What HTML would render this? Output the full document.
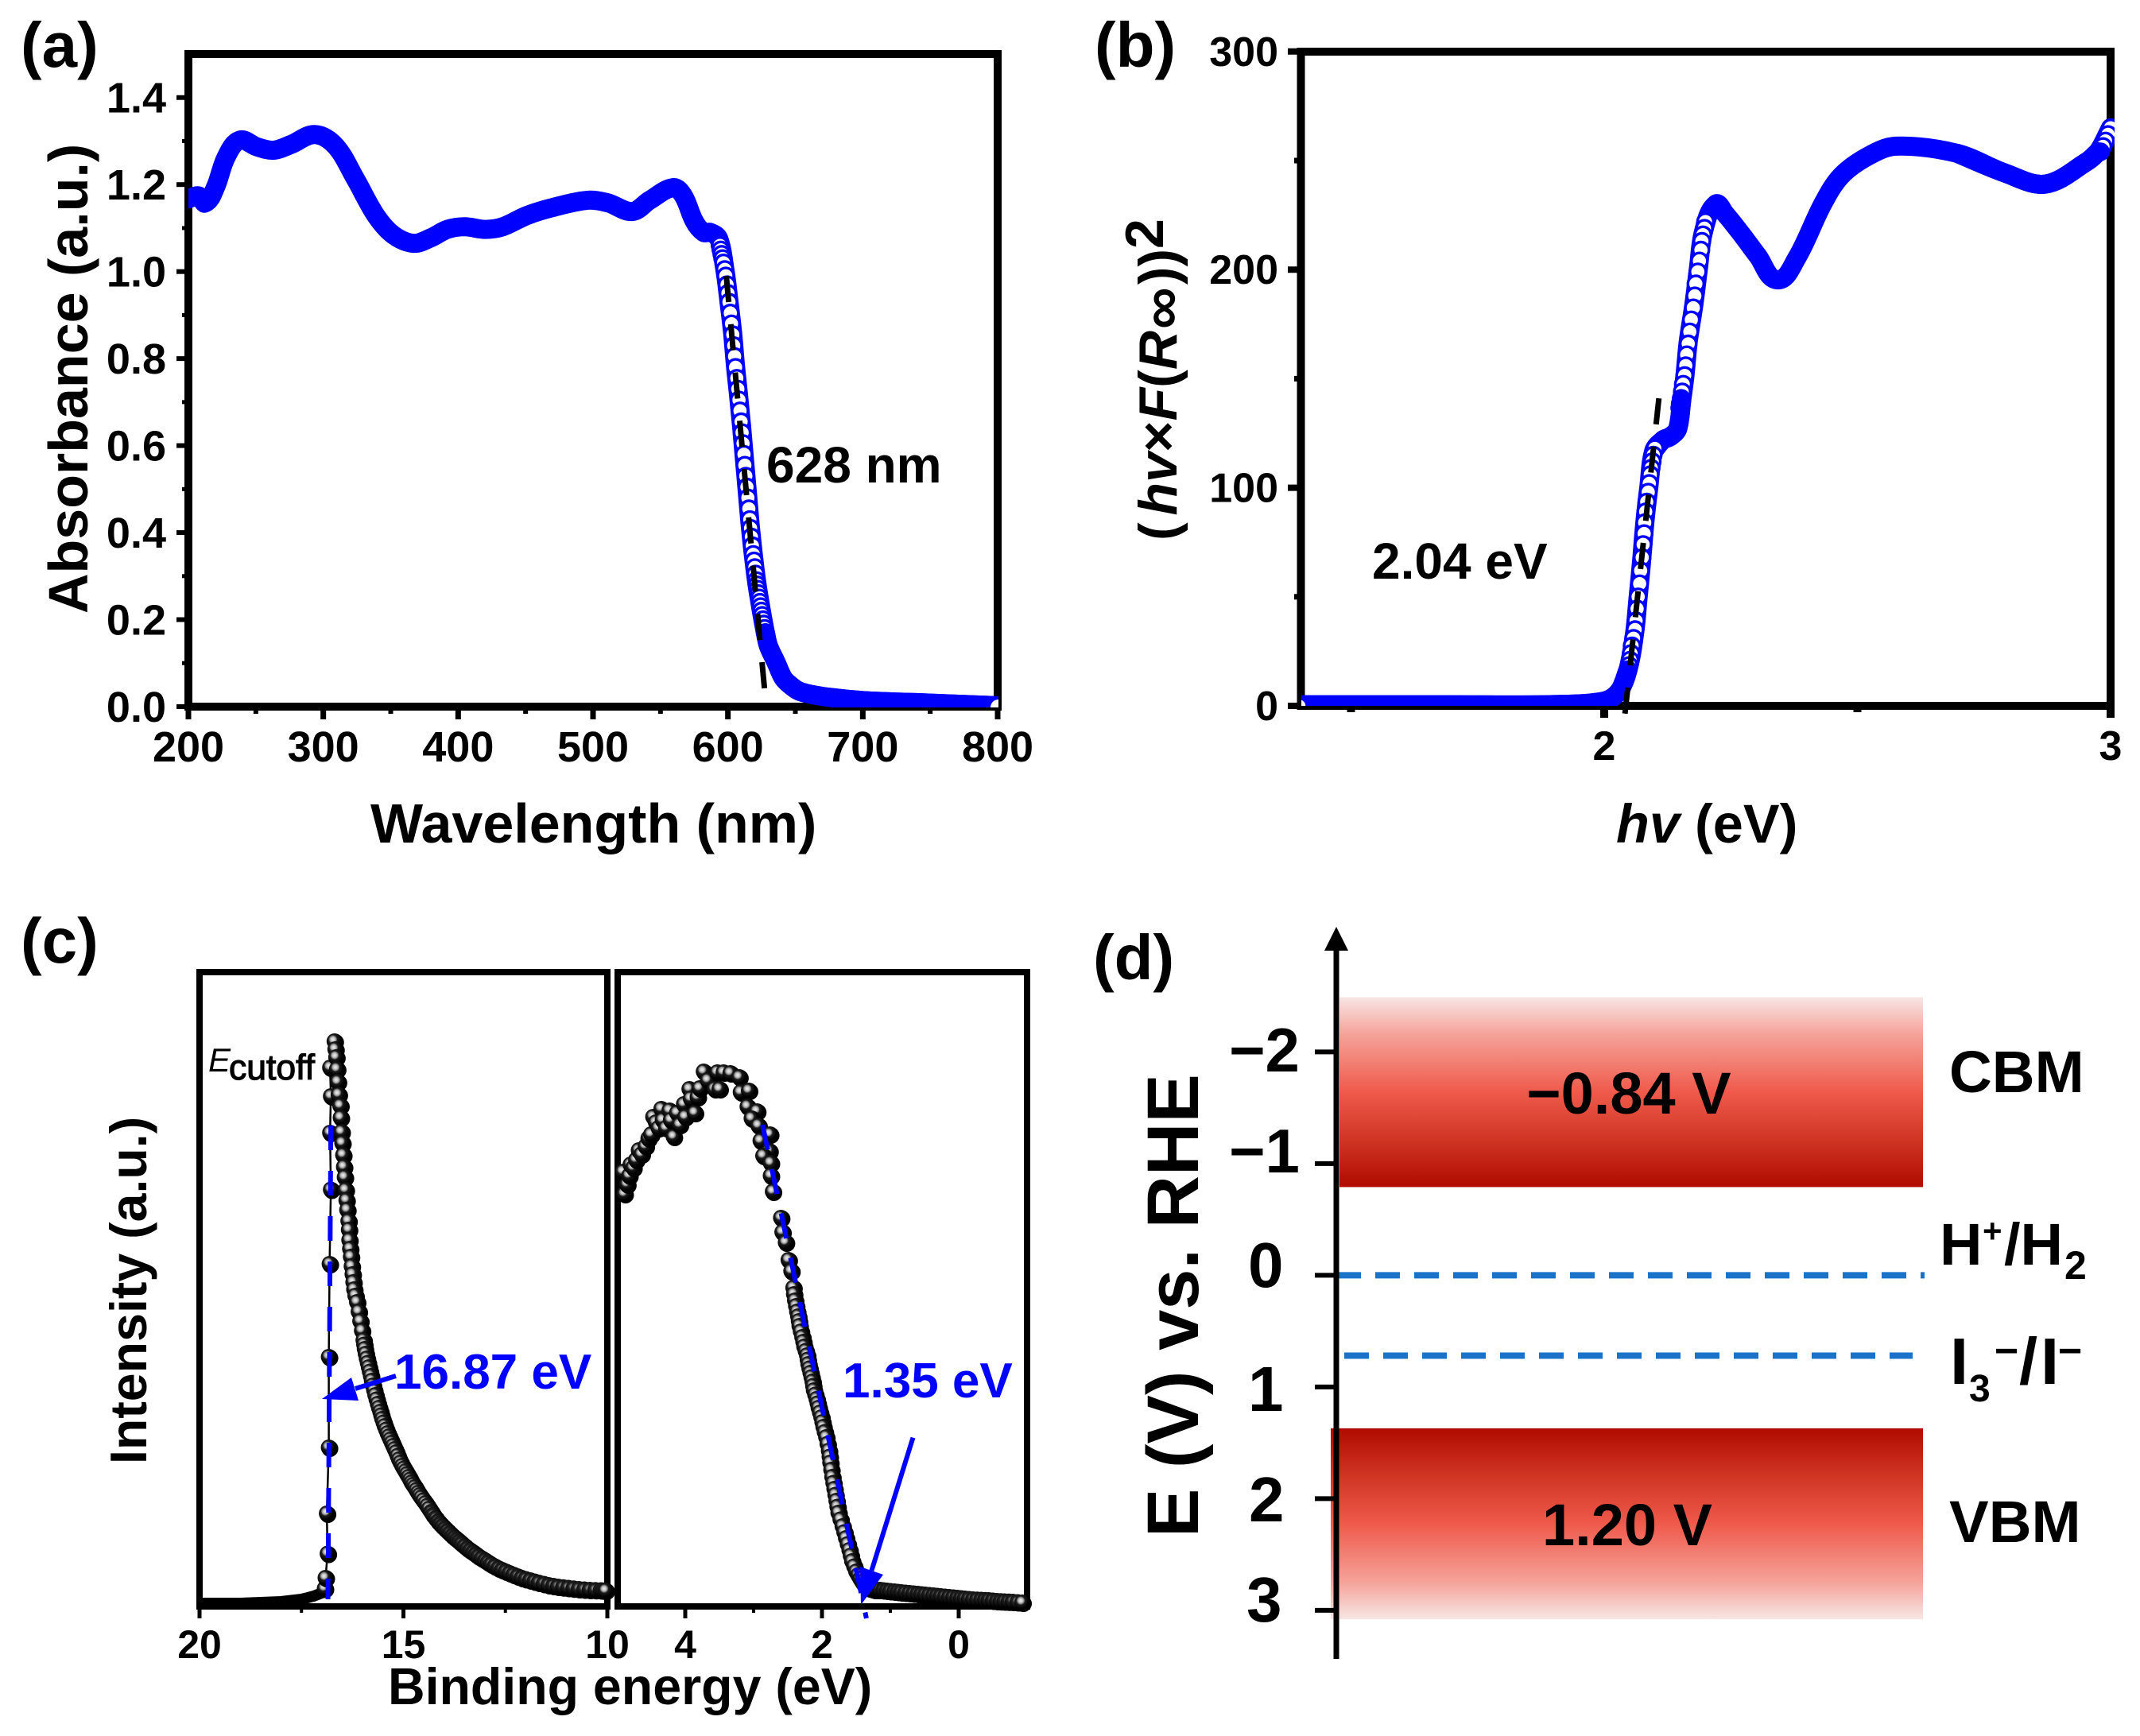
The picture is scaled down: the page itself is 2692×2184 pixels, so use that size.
<!DOCTYPE html>
<html lang="en">
<head>
<meta charset="utf-8">
<title>Optical absorption, Tauc plot, UPS spectra and band diagram</title>
<style>
html,body{margin:0;padding:0;background:#fff;}
svg{display:block;}
text{font-family:"Liberation Sans",Arial,sans-serif;font-weight:bold;fill:#000;}
</style>
</head>
<body>
<svg id="figure" xmlns="http://www.w3.org/2000/svg" width="2692" height="2184" viewBox="0 0 2692 2184">
<defs>
<radialGradient id="ball" cx="0.4" cy="0.38" r="0.5">
<stop offset="0" stop-color="#ececec"/>
<stop offset="0.22" stop-color="#cfcfcf"/>
<stop offset="0.4" stop-color="#8f8f8f"/>
<stop offset="0.55" stop-color="#1c1c1c"/>
<stop offset="1" stop-color="#000"/>
</radialGradient>
<radialGradient id="ball-dense" cx="0.4" cy="0.38" r="0.5">
<stop offset="0" stop-color="#b0b0b0"/>
<stop offset="0.25" stop-color="#6a6a6a"/>
<stop offset="0.42" stop-color="#222"/>
<stop offset="1" stop-color="#000"/>
</radialGradient>
<linearGradient id="cbm-gradient" x1="0" y1="0" x2="0" y2="1">
<stop offset="0" stop-color="#f7e6e4"/>
<stop offset="0.2" stop-color="#f5a198"/>
<stop offset="0.5" stop-color="#ef5a4b"/>
<stop offset="0.75" stop-color="#d03524"/>
<stop offset="1" stop-color="#b00b00"/>
</linearGradient>
<linearGradient id="vbm-gradient" x1="0" y1="1" x2="0" y2="0">
<stop offset="0" stop-color="#f7e6e4"/>
<stop offset="0.2" stop-color="#f5a198"/>
<stop offset="0.5" stop-color="#ef5a4b"/>
<stop offset="0.75" stop-color="#d03524"/>
<stop offset="1" stop-color="#b00b00"/>
</linearGradient>
<clipPath id="clip-a"><rect x="237" y="0" width="1019" height="890"/></clipPath>
<clipPath id="clip-b"><rect x="1637" y="0" width="1023" height="888"/></clipPath>
</defs>

<g id="panel-a">
<text x="26" y="84" font-size="80">(a)</text>
<rect x="237" y="68" width="1018" height="821" fill="none" stroke="#000" stroke-width="10"/>
<g id="a-ticks"></g>
<g id="a-marks" clip-path="url(#clip-a)"></g>
<g id="a-over"></g>
<text x="964" y="607" font-size="64">628 nm</text>
<text x="466" y="1060" font-size="70">Wavelength (nm)</text>
<text transform="translate(110,772) rotate(-90)" font-size="70">Absorbance (a.u.)</text>
</g>

<g id="panel-b">
<text x="1377" y="84" font-size="80">(b)</text>
<rect x="1636.5" y="65" width="1018.5" height="823" fill="none" stroke="#000" stroke-width="10"/>
<g id="b-ticks"></g>
<g id="b-marks" clip-path="url(#clip-b)"></g>
<g id="b-over"></g>
<text x="1726" y="728" font-size="64">2.04 eV</text>
<text x="2033" y="1060" font-size="68.5"><tspan font-style="italic">hv</tspan> (eV)</text>
<text transform="translate(1480,680) rotate(-90)" font-size="68">( <tspan font-style="italic" dx="-10">hv</tspan>×<tspan font-style="italic">F</tspan>(<tspan font-style="italic">R</tspan><tspan dx="2" dy="6" font-size="74">∞</tspan><tspan dx="3" dy="-6">))</tspan><tspan dy="-17" dx="0">2</tspan></text>
</g>

<g id="panel-c">
<text x="26" y="1211" font-size="80">(c)</text>
<rect x="251" y="1223" width="513" height="798" fill="none" stroke="#000" stroke-width="8"/>
<rect x="777" y="1223" width="515" height="798" fill="none" stroke="#000" stroke-width="8"/>
<g id="c-ticks"></g>
<g id="c-left"></g>
<g id="c-right"></g>
<g id="c-over"></g>
<line x1="498" y1="1731" x2="447" y2="1747" stroke="#0000ff" stroke-width="6"/>
<polygon points="405,1760 451,1762 442,1733" fill="#0000ff"/>
<line x1="1148.5" y1="1808.6" x2="1096.4" y2="1976" stroke="#0000ff" stroke-width="6"/>
<polygon points="1083,2019 1111,1981 1082,1971" fill="#0000ff"/>
<text x="496" y="1747" font-size="62" style="fill:#0000ff">16.87 eV</text>
<text x="1060" y="1758" font-size="62" style="fill:#0000ff">1.35 eV</text>
<text x="262" y="1348" font-size="42" style="font-weight:normal;font-style:italic">E</text>
<text x="288" y="1358" font-size="44.5" style="font-weight:normal" stroke="#000" stroke-width="1.2">cutoff</text>
<text x="488" y="2144" font-size="64.5">Binding energy (eV)</text>
<text transform="translate(184,1842) rotate(-90)" font-size="64.5">Intensity (a.u.)</text>
</g>

<g id="panel-d">
<text x="1375" y="1232" font-size="80">(d)</text>
<g id="d-bands"></g>
<g id="d-levels"></g>
<line x1="1681" y1="2087" x2="1681" y2="1190" stroke="#000" stroke-width="7"/>
<polygon points="1681,1166 1666,1196 1696,1196" fill="#000"/>
<g id="d-ticks"></g>
<text transform="translate(1507,1934) rotate(-90)" font-size="92">E (V) vs. RHE</text>
<text x="1546" y="1348" font-size="78">−2</text>
<text x="1546" y="1475" font-size="78">−1</text>
<text x="1570" y="1619" font-size="80">0</text>
<text x="1570" y="1775" font-size="80">1</text>
<text x="1571" y="1914" font-size="80">2</text>
<text x="1568" y="2040" font-size="80">3</text>
<text x="2049" y="1401" font-size="74" text-anchor="middle">−0.84 V</text>
<text x="2047" y="1944" font-size="74" text-anchor="middle">1.20 V</text>
<text x="2452" y="1374" font-size="74.5">CBM</text>
<text x="2452" y="1940" font-size="74.5">VBM</text>
<text font-size="74"><tspan x="2440" y="1591">H</tspan><tspan x="2494" y="1563" font-size="42">+</tspan><tspan x="2521" y="1591">/H</tspan><tspan x="2597" y="1609" font-size="50">2</tspan></text>
<text font-size="83"><tspan x="2453" y="1741">I</tspan><tspan x="2477" y="1763" font-size="48">3</tspan><tspan x="2509" y="1717" font-size="52">−</tspan><tspan x="2540" y="1741">/</tspan><tspan x="2567" y="1741">I</tspan><tspan x="2589" y="1717" font-size="52">−</tspan></text>
</g>
</svg>

<script>
/* ---------- panel (a) values ---------- */
const wavelengthNm = [200,207.6,212.7,220,228,238,250.6,263,276,293.7,309,324,339,352,367,380,392,405,420,433,451,471,496,511,529,542,559.5,567,575,582,587,593.1,597.8,600.8,603.5,605.5,607.9,610.2,612.2,614.3,616.3,618.7,621.6,625.5,627.8,630,636,641,646,652.5,662,674,700,750,800];
const absorbance = [1.167,1.174,1.158,1.193,1.263,1.302,1.287,1.279,1.292,1.315,1.289,1.212,1.129,1.084,1.065,1.078,1.097,1.103,1.097,1.103,1.129,1.148,1.164,1.158,1.138,1.164,1.193,1.174,1.116,1.09,1.09,1.076,1.004,0.931,0.859,0.787,0.715,0.642,0.57,0.497,0.425,0.353,0.281,0.208,0.17,0.14,0.1,0.066,0.05,0.036,0.028,0.022,0.014,0.008,0.002];
const edgeWavelengthNm = [594.1,594.8,595.4,596.1,596.8,597.7,598.4,599.4,600,600.8,601.8,602.7,603.6,604.3,605,605.7,606.6,607.4,608.2,609,609.8,610.5,611.2,611.9,612.6,613.3,614.1,614.8,615.5,616.2,616.8,617.4,618.1,618.8,619.4,620,620.6,621.2,621.7,622.2,622.7,623.3,623.8,624.3,624.9,625.4,626,626.6,627.2,627.8];
const edgeAbsorbance = [1.06,1.05,1.04,1.03,1.02,1.005,0.99,0.97,0.95,0.93,0.905,0.88,0.855,0.83,0.805,0.78,0.755,0.73,0.705,0.68,0.655,0.63,0.605,0.58,0.555,0.53,0.505,0.48,0.455,0.43,0.41,0.39,0.37,0.35,0.335,0.32,0.305,0.29,0.28,0.27,0.26,0.25,0.24,0.23,0.22,0.21,0.2,0.19,0.18,0.17];
const tangentWavelengthNm = [598.8,627.1];
const tangentAbsorbance = [0.99,0.042];
const aXTicks = [200,300,400,500,600,700,800];
const aXMinor = [250,350,450,550,650,750];
const aYTicks = [0,0.2,0.4,0.6,0.8,1.0,1.2,1.4];
const aYTickLabels = ["0.0","0.2","0.4","0.6","0.8","1.0","1.2","1.4"];
const aYMinor = [0.1,0.3,0.5,0.7,0.9,1.1,1.3];

/* ---------- panel (b) values ---------- */
const photonEnergy = [1.4,1.5,1.7,1.9,2,2.029,2.047,2.06,2.067,2.074,2.08,2.088,2.098,2.116,2.131,2.145,2.153,2.159,2.166,2.177,2.186,2.196,2.22,2.239,2.273,2.303,2.342,2.38,2.432,2.468,2.521,2.576,2.697,2.791,2.871,2.953,2.975,3];
const taucValue = [0.5,0.5,0.5,0.6,2.2,6.6,16.5,33.2,49.9,66.7,83.5,100.2,117,121.9,123.5,127,140,150.5,167,183.8,200.5,217.3,230,225.6,215.7,206.4,195.3,205.2,230.3,243,252,256.6,253.3,244.3,239.2,249.5,254,265];
const upperEdgeEnergy = [2.2,2.198,2.195,2.193,2.191,2.188,2.185,2.181,2.179,2.176,2.172,2.169,2.166,2.163,2.161,2.159,2.156,2.154,2.152,2.15,2.149];
const upperEdgeValue = [222,219,216,213,209,204,199,193.5,188,182.5,177,171.5,166,161,156,151.5,147.5,144,141,138.5,136.5];
const lowerEdgeEnergy = [2.1,2.097,2.095,2.093,2.091,2.089,2.087,2.084,2.082,2.08,2.079,2.077,2.075,2.072,2.07,2.067,2.065,2.063,2.061,2.058,2.055,2.053,2.051,2.049];
const lowerEdgeValue = [118,115,112,109,106,102,98,93.5,89,84,79,74,68,62,56,50,44.5,39,35,31,27.5,24,21,18.5];
const endEdgeEnergy = [3,2.995,2.99,2.985,2.98];
const endEdgeValue = [265,262,259,256.5,254];
const tangentEnergy = [2.108,2.041];
const tangentValue = [141,-3.6];
const bXTicks = [2,3];
const bXMinor = [1.5,2.5];
const bYTicks = [0,100,200,300];
const bYMinor = [50,150,250];

/* ---------- panel (c) values ---------- */
const cutoffFlatEnergy = [20,19,18,17.5,17.2,16.95];
const cutoffFlatIntensity = [4,4,6,9,13,18];
const cutoffRiseEnergy = [16.93,16.91,16.86,16.88,16.83,16.83,16.81,16.78,16.8,16.78,16.8];
const cutoffRiseIntensity = [22.5,36,66.5,117,200,314,431,524.5,596,642,678];
const cutoffFallEnergy = [16.69,16.67,16.65,16.63,16.61,16.59,16.55,16.54,16.52,16.5,16.48,16.46,16.44,16.42,16.4,16.38,16.35,16.34,16.33,16.31,16.29,16.27,16.25,16.23,16.21,16.18,16.14,16.1,16.06,16.02,15.98,15.965,15.95,15.925,15.9,15.875,15.85,15.825,15.8,15.775,15.75,15.72,15.69,15.66,15.63,15.6,15.57,15.545,15.52,15.49,15.46,15.425,15.39,15.355,15.32,15.285,15.25,15.215,15.18,15.145,15.11,15.07,15.03,14.99,14.95,14.91,14.87,14.835,14.8,14.76,14.72,14.68,14.64,14.6,14.56,14.51,14.46,14.415,14.37,14.32,14.27,14.21,14.15,14.095,14.04,13.98,13.92,13.86,13.8,13.74,13.68,13.625,13.57,13.5,13.43,13.36,13.29,13.225,13.16,13.08,13,12.925,12.85,12.76,12.67,12.58,12.49,12.395,12.3,12.2,12.1,12,11.89,11.785,11.68,11.56,11.44,11.325,11.21,11.085,10.96,10.83,10.7,10.565,10.43,10.295,10.16,10.1,10.04];
const cutoffFallIntensity = [711,701,691,676,660,644,630,615,597,583,568,553,540,524,511,499,485,474,461,450,440,428,418,408,399,391,383,371,359,347,335,329.5,324,318,312,306.5,301,295.5,290,284,278,272,266,260.5,255,250,245,240.5,236,231.5,227,222.5,218,214,210,206,202,198,194,189.5,185,181,177,173.5,170,166.5,163,159.5,156,153,150,146.5,143,140,137,133.5,130,126.5,123,119,115,111,107,104,101,98,95,92,89,86.5,84,81.5,79,76,73,70.5,68,65.5,63,60.5,58,55.5,53,50.5,48,46,44,42,40,38,36,34.5,33,31.5,30,28.5,27,26,25,24.2,23.5,22.7,22,21.5,21,20.7,20.5,20.2,20];
const valenceEnergy = [4.89,4.91,4.85,4.82,4.8,4.76,4.72,4.68,4.64,4.58,4.54,4.5,4.47,4.43,4.39,4.35,4.33,4.28,4.23,4.21,4.17,4.12,4.08,4.02,4,3.94,3.92,3.86,3.82,3.79,3.73,3.67,3.57,3.53,3.5,3.44,3.34,3.21,3.19,3.07,3.09,2.95,3.03,2.93,2.76,2.9,2.77,2.86,2.75,2.75,2.72,2.6,2.58,2.53,2.49,2.45,2.42,2.41,2.395,2.38,2.365,2.35,2.34,2.33,2.31,2.29,2.275,2.26,2.24,2.22,2.21,2.2,2.185,2.17,2.155,2.14,2.13,2.12,2.1,2.08,2.065,2.05,2.03,2.01,1.995,1.98,1.96,1.94,1.92,1.9,1.89,1.88,1.865,1.85,1.835,1.82,1.805,1.79,1.775,1.76,1.73,1.7,1.675,1.65,1.625,1.6,1.58,1.56,1.53,1.5,1.47,1.44,1.41,1.38,1.345,1.31,1.27,1.23,1.19,1.15,1.1,1.05,1,0.94,0.89,0.84,0.78,0.72,0.66,0.6,0.545,0.49,0.43,0.37,0.315,0.26,0.2,0.14,0.08,0.02,-0.035,-0.09,-0.15,-0.21,-0.27,-0.33,-0.385,-0.44,-0.5,-0.56,-0.615,-0.67,-0.73,-0.79,-0.86,-0.93];
const valenceIntensity = [519,547,531,542,556,552,562,574,569,579,589,594,616,609,602,626,612,602,624,612,591,621,606,632,616,651,639,621,641,652,673,662,651,672,651,672,671,666,647,649,629,623,614,605,594,586,573,567,558,542,522,489,471,458,436,422,401,393,385,378,371,365,359,353,346,339,333,327,321.5,316,310.5,305,299.5,294,288.5,283,277.5,272,266.5,261,255.5,250,244,238,232,226,219.5,213,204.5,196,188.5,181,172,163,155.5,148,140.5,133,125.5,118,109.5,101,93.5,86,78.5,71,64,57,50.5,44,39.5,35,31,27,25,23,22,21,21,21,20.5,20,19.5,19,18.5,18,17.5,17,16.5,16,15.5,15,14.5,14,13.5,13,12.5,12,11.5,11,10.5,10,9.5,9,8.7,8.5,8.2,8,7.5,7,6.7,6.5,6.2,6,5.5,5];
const cutoffFitEnergy = [16.78,16.85];
const cutoffFitIntensity = [605,9];
const valenceFitEnergy = [2.87,1.35];
const valenceFitIntensity = [606,-15];
const cLeftTicks = [20,15,10];
const cLeftMinor = [17.5,12.5];
const cRightTicks = [4,2,0];
const cRightMinor = [3,1];

/* ---------- panel (d) values ---------- */
const dTicks = [-2,-1,0,1,2,3];
const cbmRange = [-2.49,-0.79];
const vbmRange = [1.37,3.08];
const redoxLevels = [0,0.72];

/* ---------- axis functions ---------- */
const xA = w => 237 + (w - 200) * 1018 / 600;
const yA = v => 889 - v * 821 / 1.5;
const xB = h => 2018 + (h - 2) * 637;
const yB = v => 888 - v * 2.744;
const xCL = e => 251 + (20 - e) * 51.3;
const xCR = e => 1206 - e * 86;
const yC = i => 2021 - i;
const yD = v => 1604.4 + v * 140.5;

const NS = 'http://www.w3.org/2000/svg';
function make(parent, tag) {
  const el = document.createElementNS(NS, tag);
  parent.appendChild(el);
  return el;
}
function set(el, map) {
  for (const k in map) el.setAttribute(k, map[k]);
}
function pts(xs, ys, fx, fy) {
  return xs.map((x, i) => fx(x).toFixed(1) + ',' + fy(ys[i]).toFixed(1)).join(' ');
}
function tick(parent, x1, y1, x2, y2, w) {
  const el = make(parent, 'line');
  
  
  set(el, {x1, y1, x2, y2, stroke: '#000', 'stroke-width': w});
}
function label(parent, x, y, size, anchor, str) {
  const el = make(parent, 'text');
  
  
  set(el, {x, y, 'font-size': size, 'text-anchor': anchor});
  el.textContent = str;
}
/* smooth path through the read points; tangents limited by chord length to avoid overshoot */
function smoothPath(p) {
  let d = 'M' + p[0][0].toFixed(1) + ' ' + p[0][1].toFixed(1);
  const unit = (a, b) => { const dx = b[0] - a[0], dy = b[1] - a[1], l = Math.hypot(dx, dy) || 1; return [dx / l, dy / l]; };
  for (let i = 0; i < p.length - 1; i++) {
    const p0 = p[Math.max(i - 1, 0)], p1 = p[i], p2 = p[i + 1], p3 = p[Math.min(i + 2, p.length - 1)];
    const len = Math.hypot(p2[0] - p1[0], p2[1] - p1[1]);
    const t1 = unit(p0, p2), t2 = unit(p1, p3);
    d += ' C' + (p1[0] + t1[0] * len / 3).toFixed(1) + ' ' + (p1[1] + t1[1] * len / 3).toFixed(1) + ' ' + (p2[0] - t2[0] * len / 3).toFixed(1) + ' ' + (p2[1] - t2[1] * len / 3).toFixed(1) + ' ' + p2[0].toFixed(1) + ' ' + p2[1].toFixed(1);
  }
  return d;
}
function band(parent, xs, ys, fx, fy, lo, hi) {
  const keep = [];
  xs.forEach((x, i) => { if (x >= lo && x <= hi) keep.push([fx(x), fy(ys[i])]); });
  const el = make(parent, 'path');
  
  
  set(el, {d: smoothPath(keep), fill: 'none', stroke: '#0000ff', 'stroke-width': 24, 'stroke-linejoin': 'round', 'stroke-linecap': 'round'});
}
function openMarkers(parent, xs, ys, fx, fy) {
  xs.forEach((x, i) => {
    const c = make(parent, 'circle');
    
    
    set(c, {cx: fx(x).toFixed(1), cy: fy(ys[i]).toFixed(1), r: 10, fill: '#fff', stroke: '#0000ff', 'stroke-width': 3.4});
  });
}
function balls(parent, xs, ys, fx, denseBelow) {
  xs.forEach((x, i) => {
    const s = make(parent, 'circle');
    
    
    set(s, {cx: (fx(x) + 1.5).toFixed(1), cy: (yC(ys[i]) + 1.5).toFixed(1), r: 10.5, fill: '#000'});
    const c = make(parent, 'circle');
    
    
    const dense = ys[i] < denseBelow && i < xs.length - 1;
    set(c, {cx: fx(x).toFixed(1), cy: yC(ys[i]).toFixed(1), r: 10, fill: dense ? 'url(#ball-dense)' : 'url(#ball)'});
  });
}
function dashed(parent, xs, ys, fx, fy, color, w) {
  const el = make(parent, 'line');
  
  
  set(el, {x1: fx(xs[0]), y1: fy(ys[0]), x2: fx(xs[1]), y2: fy(ys[1]), stroke: color, 'stroke-width': w, 'stroke-dasharray': '33 28'});
}

/* ---------- draw (a) ---------- */
const aT = document.getElementById('a-ticks');
aXTicks.forEach(v => { tick(aT, xA(v), 889, xA(v), 905, 7); label(aT, xA(v), 958, 54, 'middle', String(v)); });
aXMinor.forEach(v => tick(aT, xA(v), 889, xA(v), 898, 6));
aYTicks.forEach((v, i) => { tick(aT, 237, yA(v), 222, yA(v), 6); label(aT, 209, yA(v) + 19, 54, 'end', aYTickLabels[i]); });
aYMinor.forEach(v => tick(aT, 237, yA(v), 229, yA(v), 5));
const aM = document.getElementById('a-marks');
band(aM, wavelengthNm, absorbance, xA, yA, 200, 800);
openMarkers(aM, edgeWavelengthNm, edgeAbsorbance, xA, yA);
band(aM, wavelengthNm, absorbance, xA, yA, 627.8, 800);
const aEnd = make(aM, 'circle');


set(aEnd, {cx: xA(800) + 1, cy: yA(0) + 1, r: 10, fill: '#fff'});
dashed(document.getElementById('a-over'), tangentWavelengthNm, tangentAbsorbance, xA, yA, '#000', 7);

/* ---------- draw (b) ---------- */
const bT = document.getElementById('b-ticks');
bXTicks.forEach(v => { tick(bT, xB(v), 888, xB(v), 903, 10); label(bT, xB(v), 956, 52, 'middle', String(v)); });
bXMinor.forEach(v => tick(bT, xB(v), 888, xB(v), 896, 10));
bYTicks.forEach(v => { tick(bT, 1637, yB(v), 1620, yB(v), 8); label(bT, 1608, yB(v) + 18, 52, 'end', String(v)); });
bYMinor.forEach(v => tick(bT, 1637, yB(v), 1628, yB(v), 7));
const bM = document.getElementById('b-marks');
band(bM, photonEnergy, taucValue, xB, yB, 1.4, 3);
openMarkers(bM, endEdgeEnergy, endEdgeValue, xB, yB);
band(bM, photonEnergy, taucValue, xB, yB, 2.6, 2.98);
openMarkers(bM, upperEdgeEnergy, upperEdgeValue, xB, yB);
band(bM, photonEnergy, taucValue, xB, yB, 2.098, 2.153);
openMarkers(bM, lowerEdgeEnergy, lowerEdgeValue, xB, yB);
band(bM, photonEnergy, taucValue, xB, yB, 1.4, 2.05);
const bEnd = make(bM, 'circle');


set(bEnd, {cx: xB(1.4) - 1, cy: yB(0), r: 7.5, fill: '#fff'});
dashed(document.getElementById('b-over'), tangentEnergy, tangentValue, xB, yB, '#000', 7);

/* ---------- draw (c) ---------- */
const cT = document.getElementById('c-ticks');
cLeftTicks.forEach(v => { tick(cT, xCL(v), 2021, xCL(v), 2036, 5); label(cT, xCL(v), 2086, 50, 'middle', String(v)); });
cLeftMinor.forEach(v => tick(cT, xCL(v), 2021, xCL(v), 2029, 4));
cRightTicks.forEach(v => { tick(cT, xCR(v), 2021, xCR(v), 2036, 5); label(cT, xCR(v), 2086, 50, 'middle', String(v)); });
cRightMinor.forEach(v => tick(cT, xCR(v), 2021, xCR(v), 2029, 4));

const cL = document.getElementById('c-left');
const flat = make(cL, 'polyline');


set(flat, {points: pts(cutoffFlatEnergy, cutoffFlatIntensity, xCL, yC), fill: 'none', stroke: '#000', 'stroke-width': 14, 'stroke-linecap': 'butt'});
const rise = make(cL, 'polyline');


set(rise, {points: pts(cutoffRiseEnergy, cutoffRiseIntensity, xCL, yC), fill: 'none', stroke: '#000', 'stroke-width': 2.5});
balls(cL, cutoffRiseEnergy, cutoffRiseIntensity, xCL, 0);
balls(cL, cutoffFallEnergy, cutoffFallIntensity, xCL, 120);

const cR = document.getElementById('c-right');
balls(cR, valenceEnergy, valenceIntensity, xCR, 25);

const cO = document.getElementById('c-over');
const fit1 = make(cO, 'line');


set(fit1, {x1: xCL(cutoffFitEnergy[0]), y1: yC(cutoffFitIntensity[0]), x2: xCL(cutoffFitEnergy[1]), y2: yC(cutoffFitIntensity[1]), stroke: '#0000ff', 'stroke-width': 6, 'stroke-dasharray': '31 26'});
const fit2 = make(cO, 'line');


set(fit2, {x1: xCR(valenceFitEnergy[0]), y1: yC(valenceFitIntensity[0]), x2: xCR(valenceFitEnergy[1]), y2: yC(valenceFitIntensity[1]), stroke: '#0000ff', 'stroke-width': 6, 'stroke-dasharray': '32 25'});

/* ---------- draw (d) ---------- */
const dB = document.getElementById('d-bands');
const cbm = make(dB, 'rect');


set(cbm, {x: 1685, y: yD(cbmRange[0]), width: 734, height: yD(cbmRange[1]) - yD(cbmRange[0]), fill: 'url(#cbm-gradient)'});
const vbm = make(dB, 'rect');


set(vbm, {x: 1674, y: yD(vbmRange[0]), width: 745, height: yD(vbmRange[1]) - yD(vbmRange[0]), fill: 'url(#vbm-gradient)'});
const dL = document.getElementById('d-levels');
redoxLevels.forEach((v, i) => {
  const el = make(dL, 'line');
  
  
  set(el, {x1: i === 0 ? 1681 : 1691, y1: yD(v), x2: i === 0 ? 2421 : 2406, y2: yD(v), stroke: '#1a72c9', 'stroke-width': 8, 'stroke-dasharray': '31 18'});
});
const dT = document.getElementById('d-ticks');
dTicks.forEach(v => tick(dT, 1654, yD(v), 1681, yD(v), 6));
</script>
</body>
</html>
